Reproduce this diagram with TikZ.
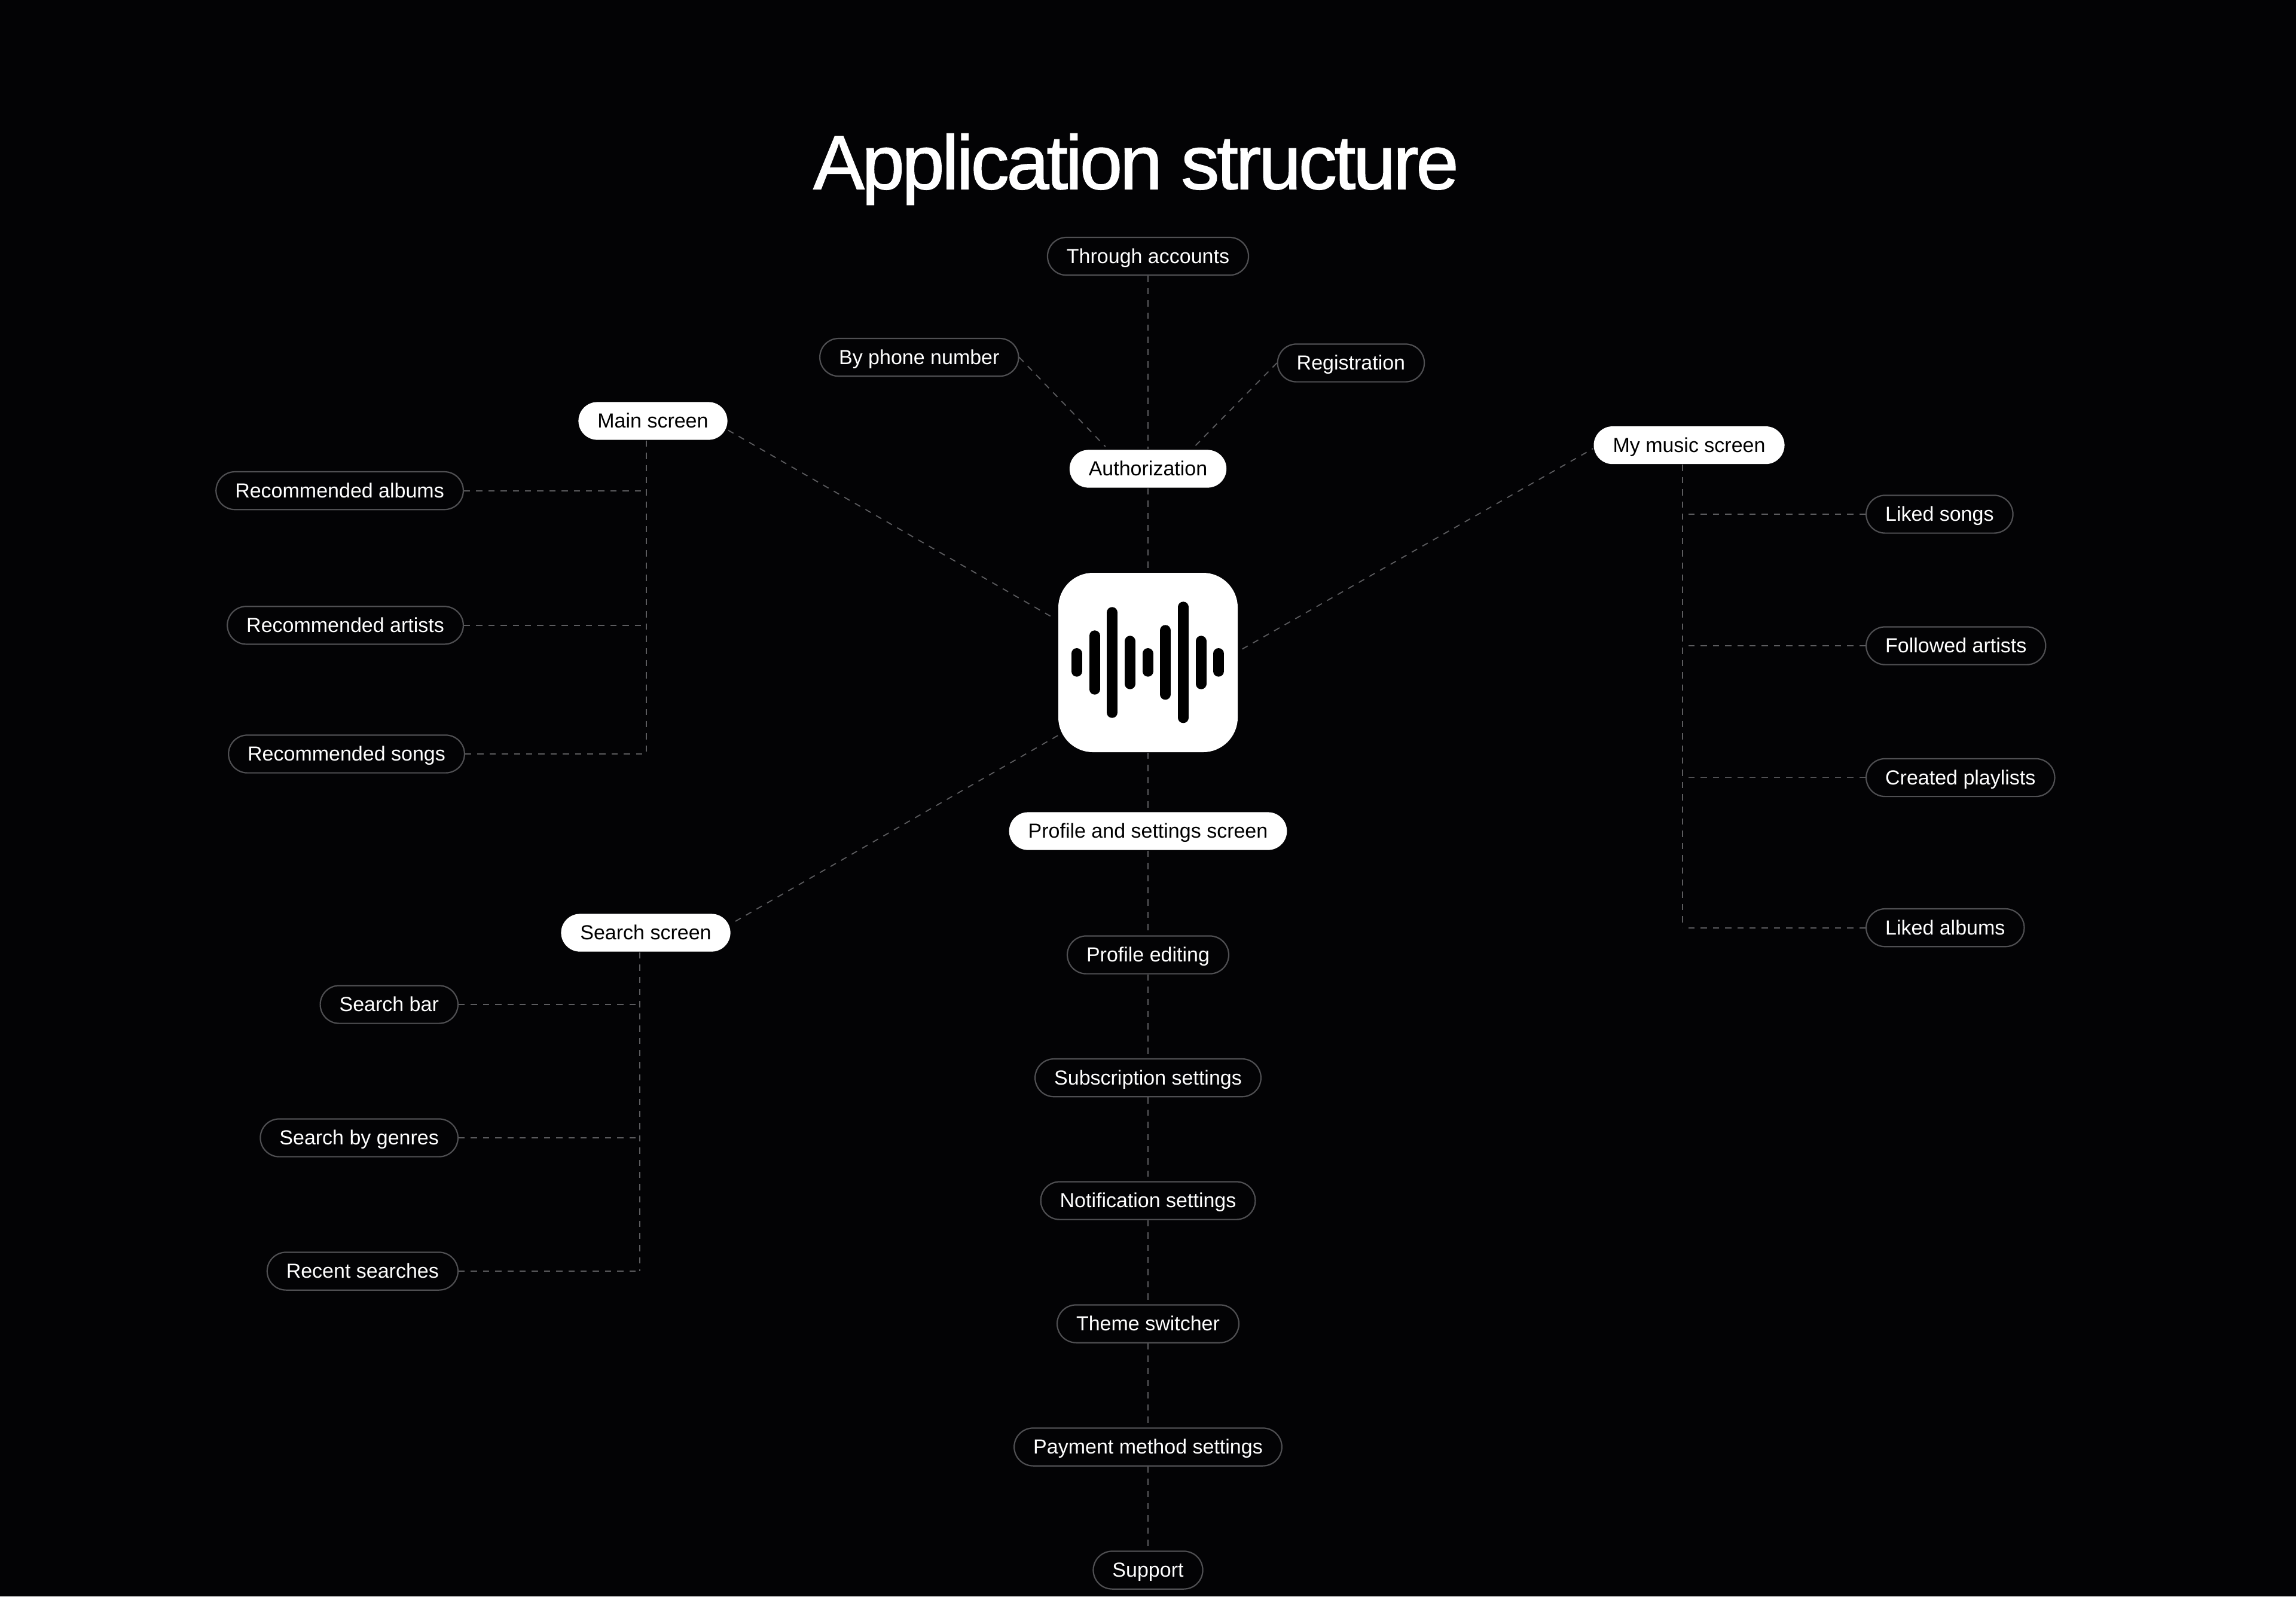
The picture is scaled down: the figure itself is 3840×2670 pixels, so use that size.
\documentclass[tikz,border=0pt]{standalone}
\usepackage{fontspec}
\setmainfont{Liberation Sans}
\newfontfamily\headingfont[LetterSpace=-3.3,FakeBold=1.2]{Liberation Sans}
\definecolor{canvas}{HTML}{030305}
\definecolor{outline}{HTML}{4F4F52}
\definecolor{linkgray}{HTML}{5C5C5F}

\begin{document}
\begin{tikzpicture}[
  x=0.25pt,y=-0.25pt,
  every node/.style={align=center,font=\fontsize{8.5pt}{10pt}\selectfont,text height=5.9pt,text depth=0pt},
  pill/.style={rectangle,rounded corners=7.9pt,minimum height=15.8pt,inner ysep=0pt,inner xsep=8pt,line width=0.55pt},
  screenPill/.style={pill,fill=white,text=black},
  featurePill/.style={pill,draw=outline,fill=canvas,text=white},
  logoBox/.style={rectangle,rounded corners=14.5pt,fill=white,minimum size=75pt,inner sep=0pt},
  link/.style={draw=linkgray,line width=0.45pt,dash pattern=on 2.6pt off 2.5pt},
  waveBar/.style={black,line width=4.5pt,line cap=round}]

\fill[canvas] (0,0) rectangle (3840,2670);
\useasboundingbox (0,0) rectangle (3840,2670);

% Title and the logo in the middle
\node[text=white,font=\headingfont\fontsize{32pt}{36pt}\selectfont,text height=23pt] (title) at (1900,270) {Application structure};
\node[logoBox] (logo) at (1920,1108) {};

\draw[waveBar] (1800.7,1093) -- (1800.7,1122.7);
\draw[waveBar] (1830.7,1063.3) -- (1830.7,1152.7);
\draw[waveBar] (1860,1024.3) -- (1860,1191.7);
\draw[waveBar] (1890,1072.3) -- (1890,1143.7);
\draw[waveBar] (1919.7,1093) -- (1919.7,1122.7);
\draw[waveBar] (1949,1054.3) -- (1949,1161.3);
\draw[waveBar] (1979,1015.3) -- (1979,1200.3);
\draw[waveBar] (2008.7,1072.3) -- (2008.7,1143.7);
\draw[waveBar] (2038,1093) -- (2038,1122.7);

% Authorization group
\node[screenPill] (authorization) at (1920,784) {Authorization};
\node[featurePill] (throughAccounts) at (1920,428.6) {Through accounts};
\node[featurePill,anchor=east] (byPhone) at (1704.6,597.6) {By phone number};
\node[featurePill,anchor=west] (registration) at (2135.6,607) {Registration};

% Main screen group
\node[screenPill] (mainScreen) at (1092,704) {Main screen};
\node[featurePill,anchor=east] (recAlbums) at (776,820.6) {Recommended albums};
\node[featurePill,anchor=east] (recArtists) at (776,1045.8) {Recommended artists};
\node[featurePill,anchor=east] (recSongs) at (778,1261) {Recommended songs};
\coordinate (mainBus) at (1081,0);

% My music group
\node[screenPill] (myMusic) at (2825,744.6) {My music screen};
\node[featurePill,anchor=west] (likedSongs) at (3120,860) {Liked songs};
\node[featurePill,anchor=west] (followedArtists) at (3120,1080) {Followed artists};
\node[featurePill,anchor=west] (createdPlaylists) at (3120,1300.5) {Created playlists};
\node[featurePill,anchor=west] (likedAlbums) at (3120,1551.6) {Liked albums};
\coordinate (musicBus) at (2814,0);

% Search group
\node[screenPill] (searchScreen) at (1080,1560) {Search screen};
\node[featurePill,anchor=east] (searchBar) at (767,1680) {Search bar};
\node[featurePill,anchor=east] (searchGenres) at (767,1903) {Search by genres};
\node[featurePill,anchor=east] (recentSearches) at (767,2126) {Recent searches};
\coordinate (searchBus) at (1070,0);

% Profile column
\node[screenPill] (profileScreen) at (1920,1390) {Profile and settings screen};
\node[featurePill] (profileEditing) at (1920,1597) {Profile editing};
\node[featurePill] (subscription) at (1920,1802.6) {Subscription settings};
\node[featurePill] (notification) at (1920,2008) {Notification settings};
\node[featurePill] (themeSwitcher) at (1920,2214) {Theme switcher};
\node[featurePill] (payment) at (1920,2420) {Payment method settings};
\node[featurePill] (support) at (1920,2626) {Support};

% Draw the dashed links between the nodes
\draw[link] (throughAccounts) -- (authorization);
\draw[link,shorten >=1.5pt] (byPhone.east) -- (authorization.154);
\draw[link,shorten >=1.5pt] (registration.west) -- (authorization.24);
\draw[link] (authorization) -- (logo);

\draw[link,shorten >=2pt] (mainScreen.-7) -- (logo.155.6);
\draw[link,shorten <=2pt] (logo.7.4) -- (myMusic.182.6);
\draw[link] (logo.219) -- (searchScreen.6.8);
\draw[link] (logo) -- (profileScreen);

\draw[link] (mainScreen.south -| mainBus) -- (recSongs.east -| mainBus);
\draw[link] (recAlbums) -- (recAlbums.east -| mainBus);
\draw[link] (recArtists) -- (recArtists.east -| mainBus);
\draw[link] (recSongs) -- (recSongs.east -| mainBus);

\draw[link] (myMusic.south -| musicBus) -- (likedAlbums.west -| musicBus);
\draw[link] (likedSongs) -- (likedSongs.west -| musicBus);
\draw[link] (followedArtists) -- (followedArtists.west -| musicBus);
\draw[link] (createdPlaylists) -- (createdPlaylists.west -| musicBus);
\draw[link] (likedAlbums) -- (likedAlbums.west -| musicBus);

\draw[link] (searchScreen.south -| searchBus) -- (recentSearches.east -| searchBus);
\draw[link] (searchBar) -- (searchBar.east -| searchBus);
\draw[link] (searchGenres) -- (searchGenres.east -| searchBus);
\draw[link] (recentSearches) -- (recentSearches.east -| searchBus);

\draw[link] (profileScreen) -- (profileEditing);
\draw[link] (profileEditing) -- (subscription);
\draw[link] (subscription) -- (notification);
\draw[link] (notification) -- (themeSwitcher);
\draw[link] (themeSwitcher) -- (payment);
\draw[link] (payment) -- (support);

\end{tikzpicture}
\end{document}
